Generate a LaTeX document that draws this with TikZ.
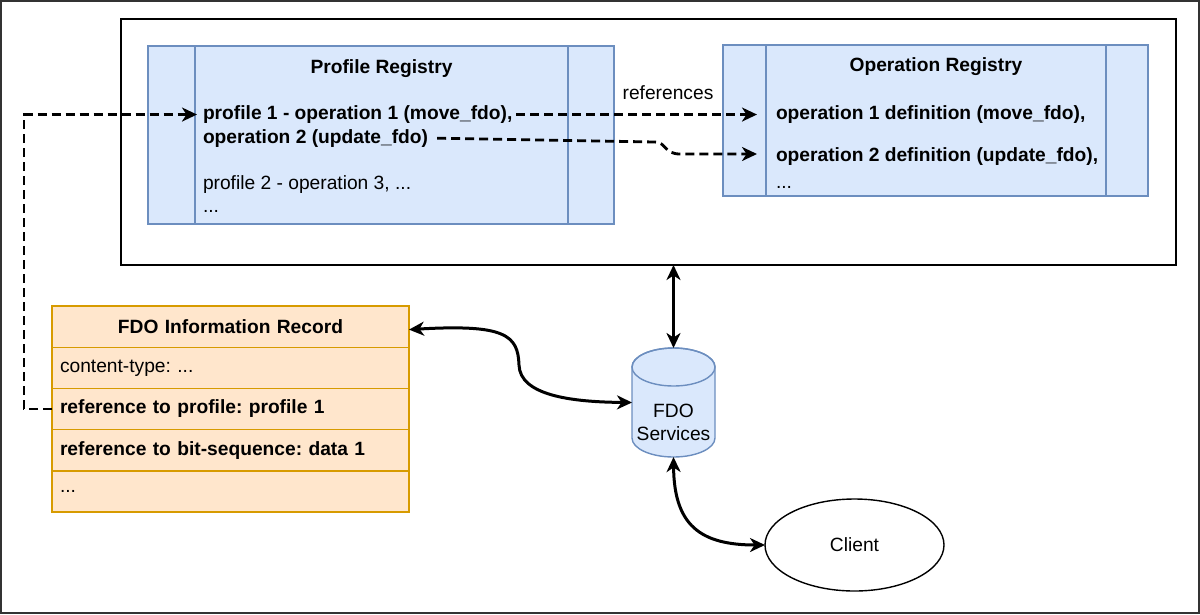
\documentclass[tikz,border=0pt]{standalone}
\usepackage{fontspec}
\setmainfont{Liberation Sans}
\usetikzlibrary{arrows.meta,shapes.geometric,calc}
\definecolor{blueF}{HTML}{DAE8FC}
\definecolor{blueS}{HTML}{6C8EBF}
\definecolor{orF}{HTML}{FFE6CC}
\definecolor{orS}{HTML}{D79B00}
\newcommand\myfs{\fontsize{19.2pt}{23pt}\selectfont}
\frenchspacing
\begin{document}
\begin{tikzpicture}[x=1pt,y=-1pt,
  every node/.style={font=\myfs, inner sep=0pt, outer sep=0pt},
  box/.style={draw, anchor=north west, line width=1.4pt},
  bluebox/.style={box, fill=blueF, draw=blueS},
  orbox/.style={box, fill=orF, draw=orS, minimum width=357pt, minimum height=41.2pt, text width=341pt, align=left},
  txt/.style={anchor=base west},
  tip/.tip={Stealth[length=15pt,width=14pt,inset=4.5pt]},
  bigarrow/.style={line width=3pt, tip-tip},
  dasharrow/.style={line width=2.8pt, dash pattern=on 9pt off 5pt, -tip}
]
\useasboundingbox (0,0) rectangle (1200,614);
\draw[line width=2pt, draw=black!80] (1,1) rectangle (1199,613);

% container
\node[box, draw=black, minimum width=1055pt, minimum height=246pt] (ctr) at (121,19) {};

% Profile registry
\node[bluebox, minimum width=466pt, minimum height=178pt] (pr) at (148,46) {};
\draw[blueS, line width=1.4pt] ([xshift=47pt]pr.north west) -- ([xshift=47pt]pr.south west);
\draw[blueS, line width=1.4pt] ([xshift=-46pt]pr.north east) -- ([xshift=-46pt]pr.south east);
\node[anchor=base, font=\myfs\bfseries] (prt) at (381.5,73) {Profile Registry};
\node[txt, font=\myfs\bfseries] (p1) at (203,119.5) {profile 1 - operation 1 (move\_fdo),};
\node[txt, font=\myfs\bfseries] (p2) at (203,143) {operation 2 (update\_fdo)};
\node[txt] (p3) at (203,189.5) {profile 2 - operation 3, ...};
\node[txt] (p4) at (203,212) {...};

% Operation registry
\node[bluebox, minimum width=425pt, minimum height=151pt] (or) at (723,45) {};
\draw[blueS, line width=1.4pt] ([xshift=43pt]or.north west) -- ([xshift=43pt]or.south west);
\draw[blueS, line width=1.4pt] ([xshift=-42pt]or.north east) -- ([xshift=-42pt]or.south east);
\node[anchor=base, font=\myfs\bfseries] (ort) at (936,71) {Operation Registry};
\node[txt, font=\myfs\bfseries] (o1) at (776,119.5) {operation 1 definition (move\_fdo),};
\node[txt, font=\myfs\bfseries] (o2) at (776,161) {operation 2 definition (update\_fdo),};
\node[txt] (o3) at (776,188) {...};

% FDO information record
\node[orbox, align=center, font=\myfs\bfseries] (rh) at (52,306) {FDO Information Record};
\node[orbox] (r1) at (52,347.2) {content-type: ...};
\node[orbox, font=\myfs\bfseries] (r2) at (52,388.4) {reference to profile: profile 1};
\node[orbox, font=\myfs\bfseries] (r3) at (52,429.6) {reference to bit-sequence: data 1};
\node[orbox] (r4) at (52,470.8) {...};

% FDO services cylinder
\fill[blueF, draw=blueS, line width=1.4pt] (632,367) -- (632,438)
  .. controls (632,448.5) and (650.6,457) .. (673.5,457)
  .. controls (696.4,457) and (715,448.5) .. (715,438) -- (715,367)
  .. controls (715,356.5) and (696.4,348) .. (673.5,348)
  .. controls (650.6,348) and (632,356.5) .. (632,367) -- cycle;
\draw[blueS, line width=1.4pt] (673.5,367) ellipse [x radius=41.5pt, y radius=19pt];
\node[minimum width=83pt, minimum height=109pt, align=center] (svc) at (673.5,402.5) {};
\node[align=center] (svct) at (673.5,422) {FDO\\Services};

% Client
\node[ellipse, draw, line width=1.4pt, minimum width=179pt, minimum height=92pt] (client) at (854.5,545) {Client};

% connectors
\draw[bigarrow] (svc.north) -- (svc.north |- ctr.south);
\draw[bigarrow] ([yshift=-3pt]rh.east) .. controls (505,324) and (518,335) .. (519,365)
  .. controls (520,395) and (570,402) .. (svc.west);
\draw[bigarrow] (svc.south) .. controls (674,525) and (700,545) .. (client.west);

\draw[dasharrow, shorten <=4pt] (p1.east) -- ([xshift=-19pt]p1.east -| o1.west);
\node[anchor=base] (refl) at (668,99) {references};
\draw[dasharrow, shorten <=9pt] (p2.east) -- (655,142) .. controls (666,142) and (664,154) .. (680,154) -- (757,154);
\draw[dasharrow] (r2.west) -- ++(-28,0) |- ([xshift=-6pt]p1.west);
\end{tikzpicture}
\end{document}
